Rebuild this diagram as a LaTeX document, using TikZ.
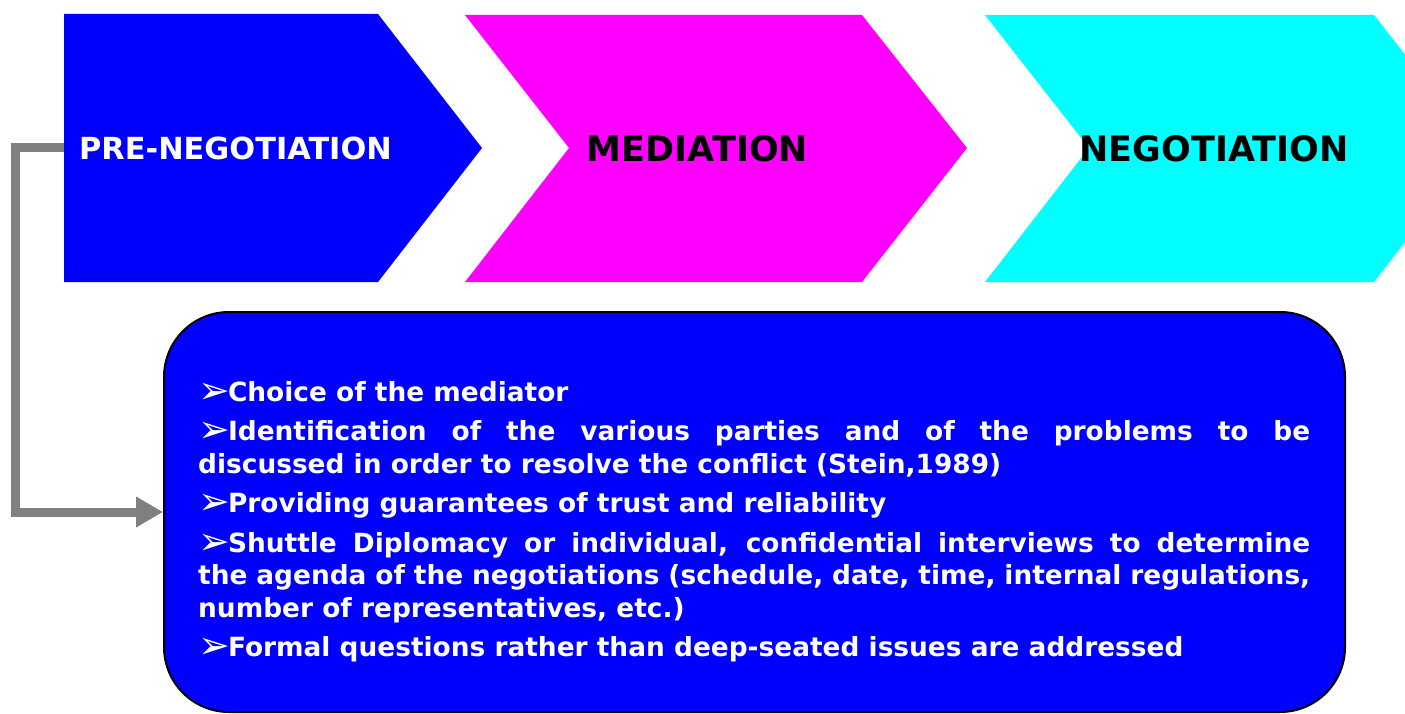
\documentclass[tikz,border=0pt]{standalone}
\usepackage{fontspec}
\setmainfont{DejaVu Sans}
\newfontfamily\dingfont{DejaVu Sans}
\usetikzlibrary{arrows.meta}
\definecolor{pblue}{RGB}{0,0,255}
\definecolor{pmag}{RGB}{255,0,255}
\definecolor{pcyan}{RGB}{0,255,255}
\definecolor{pgray}{RGB}{128,128,128}
\newcommand{\bul}{\smash{\raisebox{-2pt}{\dingfont\mdseries\fontsize{38}{38}\selectfont ➢}}\hspace{-2pt}}
\tikzset{
  stagetext/.style={inner sep=0pt, font=\bfseries\fontsize{35}{40}\selectfont, text=black, anchor=base},
  itembox/.style={draw=black, line width=2pt, fill=pblue, rounded corners=65pt, inner sep=0pt},
  connector/.style={pgray, line width=9pt, line join=miter, -{Triangle[length=27pt,width=29pt]}},
}
\begin{document}
\begin{tikzpicture}[x=1pt,y=-1pt]
\useasboundingbox (0,0) rectangle (1405,714);
\begin{scope}
\clip (0,0) rectangle (1405,714);
\fill[pblue] (64,14) -- (378,14) -- (482,148) -- (378,282) -- (64,282) -- cycle;
\fill[pmag] (465,15) -- (862,15) -- (967,148) -- (862,282) -- (465,282) -- (569,148) -- cycle;
\fill[pcyan] (985,15) -- (1374,15) -- (1478,148) -- (1374,282) -- (985,282) -- (1089,148) -- cycle;
\end{scope}
\coordinate (prewest) at (64,148);
\node[inner sep=0pt, font=\bfseries\fontsize{30.4}{36}\selectfont, text=white, anchor=base west] (pre) at (79,160) {PRE-NEGOTIATION};
\node[stagetext] (med) at (697.5,162) {MEDIATION};
\node[stagetext] (neg) at (1214,162) {NEGOTIATION};
\node[itembox, minimum width=1181pt, minimum height=400pt] (box) at (754.5,512) {};
\node[anchor=north west, text width=1112pt, align=justify, inner sep=0pt, text=white,
      font=\bfseries\fontsize{26.4}{32.5}\selectfont] (items) at (198,381) {%
\bul Choice of the mediator\par\vspace{7pt}
\bul Identification of the various parties and of the problems to be\linebreak
discussed in order to resolve the conflict (Stein,1989)\par\vspace{7pt}
\bul Providing guarantees of trust and reliability\par\vspace{7pt}
\bul Shuttle Diplomacy or individual, confidential interviews to determine\linebreak
the agenda of the negotiations (schedule, date, time, internal regulations,\linebreak
number of representatives, etc.)\par\vspace{7pt}
\bul Formal questions rather than deep-seated issues are addressed};
\draw[connector] (prewest) -- (15,148) -- (15,512) -- (box.west);
\end{tikzpicture}
\end{document}
